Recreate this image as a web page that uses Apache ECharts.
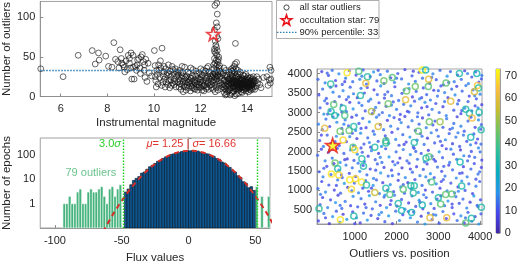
<!DOCTYPE html>
<html>
<head>
<meta charset="utf-8">
<script src="https://cdn.jsdelivr.net/npm/echarts@6/dist/echarts.min.js"></script>
<style>
html, body { margin: 0; padding: 0; background: #fff; }
#main { width: 520px; height: 265px; }
</style>
</head>
<body>
<div id="main"></div>
<script>
// top-left: outliers per star vs instrumental magnitude
var magOutliers = [
  [5.14,35],[6.1,25],[6.75,52],[7.35,58],[7.48,41],[7.62,55],[7.65,46],[7.93,51],[8.05,38],[8.2,37],[8.28,68],[8.35,47],[8.45,44],[8.55,59],[8.6,48],[8.62,42],[8.68,40],[8.72,37],[8.75,31],[8.8,45],[8.9,52],[8.95,48],[9.02,55],[9.05,22],[9.1,52],[9.15,22],[9.2,38],[9.25,33],[9.3,46],[9.35,48],[9.4,36],[9.42,29],[9.5,53],[9.55,44],[9.6,40],[9.62,24],[9.7,19],[9.75,42],[8.85,34],[9.0,36],[9.45,50],[8.5,36],[9.12,37],[9.58,33],[9.8,30],[9.9,26],[9.65,47],[8.95,42],[9.28,40],
  [10.02,58],[10.05,39],[10.1,12],[10.12,33],[10.15,28],[10.2,40],[10.25,24],[10.3,36],[10.35,61],[10.38,18],[10.42,31],[10.45,22],[10.5,35],[10.55,27],[10.6,15],[10.62,40],[10.65,20],[10.7,32],[10.72,25],[10.78,38],[10.8,17],[10.85,29],[10.88,22],[10.92,35],[10.95,12],[10.98,26],[10.08,20],[10.18,16],[10.28,45],[10.48,12],[10.58,30],[10.68,11],[10.75,14],[10.82,34],[10.9,19],[10.4,26],[10.22,33],[10.52,18],[10.33,14],[10.66,28],[10.96,31],[10.06,25],[10.87,15],[10.44,38],[10.73,21],
  [11.02,18],[11.05,27],[11.08,12],[11.1,33],[11.13,20],[11.16,9],[11.18,24],[11.2,15],[11.23,30],[11.25,19],[11.28,13],[11.3,22],[11.32,37],[11.35,17],[11.38,8],[11.4,26],[11.42,14],[11.45,21],[11.48,11],[11.5,18],[11.52,29],[11.55,16],[11.57,7],[11.6,23],[11.62,13],[11.65,19],[11.68,34],[11.7,15],[11.72,10],[11.75,21],[11.78,17],[11.8,26],[11.82,12],[11.85,19],[11.88,8],[11.9,23],[11.92,15],[11.95,30],[11.98,18],[12.0,11],[12.02,21],[12.05,16],[12.08,27],[12.1,13],[12.12,19],[12.15,7],[12.18,24],[12.2,15],[12.22,32],[12.25,20],[12.28,12],[12.3,26],[12.32,17],[12.35,9],[12.38,22],[12.4,14],[12.42,29],[12.45,19],[12.48,11],[12.5,24],
  [11.06,22],[11.15,30],[11.26,6],[11.36,24],[11.46,31],[11.56,20],[11.66,26],[11.76,9],[11.86,28],[11.96,22],[12.06,8],[12.16,29],[12.26,23],[12.36,31],[12.46,15],[11.12,16],[11.22,26],[11.34,12],[11.44,18],[11.54,24],[11.64,11],[11.74,18],[11.84,15],[11.94,12],[12.04,25],[12.14,14],[12.24,10],[12.34,18],[12.44,26],[11.03,30],[11.58,36],[12.01,35],[12.33,38],[12.12,33],[11.21,38],[11.81,32],[12.27,36],
  [12.62,115],[12.7,118],[12.72,104],[12.68,93],[12.72,88],[12.6,84],[12.7,76],[12.63,70],[12.66,65],[12.75,73],[12.6,60],[12.72,58],[12.65,55],[12.7,52],[12.78,50],[12.6,48],[12.68,46],[12.75,44],[12.62,42],[12.72,40],[12.66,38],[12.8,36],[12.58,35],[12.7,33],[12.76,31],[12.64,29],[12.74,27],[12.55,26],[12.82,39],[12.77,47],[12.69,62],[12.6,57],[12.57,40],[12.85,32],[12.6,30],[12.66,24],
  [12.52,18],[12.55,9],[12.58,21],[12.6,14],[12.63,6],[12.65,19],[12.68,11],[12.7,22],[12.72,16],[12.75,8],[12.78,20],[12.8,13],[12.82,25],[12.85,17],[12.88,10],[12.9,23],[12.92,15],[12.95,28],[12.53,28],[12.62,25],[12.73,26],[12.87,29],
  [12.97,12],[13.0,20],[13.02,5],[13.04,26],[13.06,14],[13.08,9],[13.1,18],[13.12,3],[13.14,24],[13.16,11],[13.18,16],[13.2,7],[12.98,30],[13.01,15],[13.05,21],[13.09,33],[13.13,27],[13.17,19],[13.03,10],[13.07,2],[13.11,13],[13.15,6],[13.19,22],[13.0,36],
  [13.22,14],[13.24,22],[13.26,8],[13.28,17],[13.3,27],[13.32,11],[13.34,4],[13.36,19],[13.38,13],[13.4,24],[13.42,7],[13.44,16],[13.46,30],[13.48,10],[13.5,20],[13.52,14],[13.54,3],[13.56,25],[13.58,12],[13.6,18],[13.62,8],[13.64,22],[13.66,15],[13.68,28],[13.7,11],[13.72,19],[13.74,6],[13.76,23],[13.78,14],[13.8,17],[13.82,9],[13.84,21],[13.86,13],[13.88,26],[13.9,16],[13.92,10],[13.94,19],[13.96,7],[13.98,23],[14.0,14],[14.02,18],[14.04,11],[14.06,21],[14.08,15],[14.1,9],[14.12,19],[14.14,13],[14.16,24],[14.18,16],[14.2,11],[14.22,19],[14.24,14],[14.26,22],[14.28,17],[14.3,12],
  [13.23,31],[13.27,2],[13.31,20],[13.35,29],[13.39,6],[13.43,21],[13.47,1],[13.51,26],[13.55,9],[13.59,29],[13.63,4],[13.67,20],[13.71,31],[13.75,16],[13.79,5],[13.83,27],[13.87,8],[13.91,22],[13.95,28],[13.99,10],[14.03,25],[14.07,6],[14.11,23],[14.15,8],[14.19,21],[14.23,9],[14.27,25],
  [13.21,19],[13.25,10],[13.29,23],[13.33,15],[13.37,25],[13.41,12],[13.45,18],[13.49,23],[13.53,17],[13.57,20],[13.61,13],[13.65,10],[13.69,17],[13.73,13],[13.77,20],[13.81,12],[13.85,17],[13.89,19],[13.93,14],[13.97,17],[14.01,20],[14.05,16],[14.09,12],[14.13,17],[14.17,19],[14.21,15],[14.25,17],[14.29,20],
  [13.35,16],[13.45,13],[13.55,18],[13.65,16],[13.75,21],[13.85,15],[13.95,18],[14.05,13],[14.15,15],[13.4,18],[13.5,11],[13.6,24],[13.7,14],[13.8,22],[13.9,12],[14.0,16],[14.1,17],[14.2,14],[13.62,16],[13.72,15],[13.82,18],[13.92,16],[14.02,13],[13.52,15],[13.42,20],[13.32,17],[13.78,11],[13.88,14],[13.68,12],[13.58,14],
  [13.5,67],[13.55,43],[13.45,38],[13.38,36],[13.3,34],[13.6,33],[13.42,33],[13.52,35],[13.35,32],[13.48,41],
  [14.35,20],[14.4,13],[14.45,17],[14.5,22],[14.55,15],[14.6,11],[14.7,24],[14.85,25],[14.95,21],[15.0,17],[15.02,22],[14.9,14],[14.98,37],[15.03,33],[14.42,25],[14.33,9]
];
var occultStar = [[12.55, 79]];
var percentile90 = 33;

// bottom-left: flux histogram (bin centre, count), bin width 2
var outlierBins = [
  [-93,1],[-91,1],[-89,2],[-87,1],[-85,1],[-83,3],[-81,4],[-79,1],[-77,1],[-75,3],[-73,4],
  [-71,3],[-69,3],[-67,4],[-65,5],[-63,2],[-61,1],[-59,4],[-57,5],[-55,2],[-53,4],[-51,6],
  [51,5],[55,2],[60,2]
];
var fluxBins = [
  [-47,3],[-45,4],[-43,6],[-41,9],[-39,11],[-37,13],[-35,18],[-33,20],[-31,26],[-29,33],
  [-27,38],[-25,45],[-23,55],[-21,60],[-19,73],[-17,84],[-15,90],[-13,106],[-11,112],[-9,125],
  [-7,129],[-5,140],[-3,142],[-1,150],[1,148],[3,153],[5,143],[7,145],[9,132],[11,128],
  [13,114],[15,110],[17,92],[19,88],[21,72],[23,66],[25,52],[27,47],[29,36],[31,31],
  [33,23],[35,20],[37,14],[39,12],[41,8],[43,7],[45,4.5],[47,5],[49,3.5]
];
var gaussFit = [
  [-64,0.07],[-60,0.174],[-56,0.41],[-52,0.91],[-48,1.9],[-44,3.75],[-40,7.0],[-36,12.3],
  [-32,20.5],[-28,32.1],[-24,47.6],[-20,66.5],[-16,87.8],[-12,109.3],[-8,128.6],[-4,142.7],
  [0,149.6],[4,148],[8,138.2],[12,121.8],[16,101.4],[20,79.6],[24,59.2],[28,41.4],
  [32,27.3],[36,17.0],[40,10.0],[44,5.6],[48,2.9],[52,1.45],[56,0.68],[60,0.30],[64,0.125]
];
var sigmaCut = [-48.73, 51.23];

// right: outliers vs position (x, y, outliers)
var posDots = [
  [130,220,9],[260,410,14],[390,150,6],[470,330,18],[560,470,11],[640,180,15],[720,390,7],[810,260,20],[880,120,12],[950,450,9],[1040,300,16],[1130,170,8],[1210,420,13],[1300,240,19],[1390,360,10],[1460,130,14],[1550,280,7],[1640,440,17],[1720,200,11],[1810,350,21],[1900,150,8],[1980,470,13],[2070,230,16],[2150,380,9],[2240,120,12],[2330,300,18],[2410,450,10],[2500,190,15],[2590,340,7],[2680,140,20],[2760,420,12],[2850,250,9],[2940,370,16],[3020,160,11],[3110,460,14],[3190,280,8],[3280,130,19],[3370,400,10],[3450,230,13],[3540,350,17],[3620,170,9],[3710,440,12],[3800,210,15],[3880,330,8],[3970,140,18],[4020,400,11],
  [170,640,12],[230,820,8],[350,560,16],[420,760,10],[540,690,19],[600,880,7],[690,540,13],[770,720,15],[900,610,9],[960,850,17],[1070,580,11],[1150,790,14],[1240,650,8],[1350,870,20],[1420,530,12],[1500,710,16],[1610,620,9],[1700,830,13],[1760,560,18],[1870,740,10],[1950,880,15],[2010,600,7],[2120,770,12],[2200,520,17],[2290,680,9],[2370,860,14],[2460,590,11],[2540,750,19],[2630,530,8],[2710,820,13],[2820,660,16],[2900,540,10],[2970,780,12],[3060,860,7],[3150,610,15],[3230,730,18],[3330,560,9],[3420,840,14],[3500,670,11],[3590,780,13],[3680,550,16],[3760,700,8],[3850,860,20],[3930,620,12],[4010,760,10],
  [120,1050,14],[210,1230,9],[300,960,17],[380,1140,11],[510,1010,8],[590,1270,15],[660,930,12],[750,1180,19],[830,1080,7],[990,1190,13],[1090,940,16],[1190,1060,10],[1260,1250,14],[1330,980,9],[1440,1130,18],[1520,1270,12],[1590,920,15],[1670,1200,8],[1780,1010,13],[1850,1150,17],[1930,970,11],[2040,1260,9],[2100,1090,16],[2190,930,12],[2270,1200,7],[2350,1040,14],[2440,1280,10],[2520,950,19],[2610,1130,13],[2690,1010,8],[2770,1250,15],[2860,960,11],[2950,1170,17],[3040,1060,9],[3120,1280,12],[3210,990,16],[3300,1190,10],[3390,940,14],[3470,1090,8],[3560,1240,18],[3640,1000,11],[3730,1170,13],[3820,920,9],[3900,1110,15],[3990,1230,12],
  [150,1480,11],[240,1350,16],[330,1620,9],[430,1410,13],[500,1690,7],[620,1520,18],[700,1330,12],[790,1650,15],[870,1440,10],[940,1580,14],[1020,1360,8],[1120,1490,17],[1200,1640,11],[1290,1400,13],[1370,1550,9],[1450,1310,16],[1540,1680,12],[1620,1450,19],[1700,1590,8],[1800,1370,14],[1880,1520,10],[1960,1660,15],[2050,1420,12],[2130,1580,7],[2210,1330,17],[2300,1700,11],[2380,1470,13],[2480,1610,9],[2560,1380,16],[2640,1540,12],[2730,1680,8],[2810,1430,18],[2900,1330,11],[2980,1600,14],[3080,1490,10],[3160,1370,15],[3250,1650,9],[3340,1530,13],[3430,1320,17],[3510,1440,11],[3600,1610,8],[3690,1350,16],[3780,1550,12],[3860,1690,10],[3950,1420,14],[4030,1590,9],
  [110,1900,13],[200,2060,8],[290,1760,16],[370,1980,11],[460,1830,14],[580,2080,9],[650,1720,18],[740,1950,12],[820,1810,7],[900,2040,15],[980,1770,11],[1060,1930,17],[1150,2090,10],[1230,1740,13],[1320,1880,9],[1400,2020,16],[1490,1790,12],[1570,1950,8],[1650,1720,14],[1740,2070,11],[1820,1860,19],[1910,1740,10],[1990,1990,13],[2080,1830,7],[2160,2050,15],[2250,1760,12],[2330,1920,17],[2420,2080,9],[2500,1800,14],[2590,1950,11],[2670,1730,16],[2760,2030,8],[2850,1880,13],[2930,1750,10],[3020,1990,18],[3100,1840,12],[3190,2070,9],[3270,1720,15],[3360,1930,11],[3440,1800,14],[3530,2040,7],[3610,1890,16],[3700,1760,12],[3790,2000,10],[3870,1850,13],[3960,2090,17],[4040,1780,9],
  [160,2280,10],[250,2130,15],[340,2420,12],[420,2200,8],[560,2390,17],[630,2150,11],[710,2460,14],[800,2250,9],[880,2380,16],[970,2140,12],[1050,2330,7],[1140,2470,18],[1220,2190,11],[1310,2350,13],[1380,2110,9],[1470,2440,15],[1560,2260,12],[1640,2130,17],[1730,2400,10],[1810,2210,14],[1890,2490,8],[1980,2310,16],[2060,2160,11],[2150,2430,13],[2230,2240,9],[2320,2370,18],[2400,2120,12],[2490,2290,15],[2570,2460,10],[2660,2180,14],[2740,2340,7],[2830,2480,16],[2910,2220,11],[3000,2390,13],[3090,2150,9],[3170,2300,17],[3260,2460,12],[3340,2200,8],[3420,2370,15],[3510,2130,11],[3600,2420,14],[3680,2260,10],[3770,2170,16],[3850,2450,12],[3940,2320,9],[4020,2190,13],
  [130,2700,16],[220,2560,11],[310,2830,14],[400,2640,9],[480,2890,13],[570,2750,17],[690,2590,10],[770,2810,15],[850,2660,12],[930,2880,8],[1020,2540,16],[1100,2720,11],[1190,2850,13],[1270,2610,9],[1350,2760,18],[1440,2520,12],[1520,2880,15],[1610,2690,10],[1690,2560,14],[1780,2800,8],[1860,2650,16],[1940,2870,11],[2030,2580,13],[2110,2740,17],[2200,2900,9],[2280,2630,12],[2370,2790,15],[2450,2540,10],[2540,2700,14],[2620,2860,7],[2710,2610,16],[2870,2680,11],[2960,2550,13],[3110,2620,12],[3200,2840,15],[3280,2570,10],[3370,2720,14],[3450,2890,8],[3540,2650,16],[3620,2520,11],[3710,2780,13],[3880,2620,9],[3960,2810,17],[4030,2690,12],
  [170,3120,12],[260,2960,17],[340,3230,10],[410,3050,14],[520,3280,8],[600,2940,16],[680,3190,11],[800,3020,13],[880,3260,9],[960,3090,18],[1040,2930,12],[1170,3180,15],[1250,3040,10],[1330,3290,14],[1420,2970,8],[1500,3130,16],[1580,3250,11],[1660,3000,13],[1750,3160,9],[1830,2920,17],[1920,3270,12],[2000,3080,15],[2090,2950,10],[2170,3210,14],[2260,3030,8],[2340,3170,16],[2430,3290,11],[2510,2990,13],[2600,3120,9],[2680,3260,18],[2770,2940,12],[2850,3080,15],[2940,3230,10],[3020,3000,14],[3110,3150,8],[3190,2920,16],[3370,3060,11],[3460,3220,13],[3540,2970,9],[3630,3110,17],[3710,3280,12],[3800,3040,15],[3880,3170,10],[3970,2930,14],[4040,3200,8],
  [140,3450,9],[230,3600,14],[320,3360,11],[480,3520,16],[550,3680,8],[630,3410,13],[720,3560,17],[800,3330,10],[890,3650,12],[970,3480,15],[1060,3380,9],[1150,3620,14],[1230,3500,11],[1380,3340,16],[1460,3580,8],[1540,3460,13],[1620,3680,17],[1710,3370,10],[1790,3530,12],[1880,3430,15],[1960,3660,9],[2050,3310,14],[2130,3490,11],[2300,3610,16],[2380,3400,8],[2470,3540,13],[2550,3350,17],[2640,3630,10],[2720,3460,12],[2810,3320,15],[2890,3570,9],[2980,3420,14],[3060,3680,11],[3150,3510,16],[3230,3380,8],[3320,3600,13],[3400,3450,17],[3490,3310,10],[3570,3550,12],[3660,3690,15],[3740,3420,9],[3830,3580,14],[3910,3350,11],[4000,3470,16],
  [120,3850,13],[210,4050,8],[290,3760,16],[370,3950,11],[460,4080,14],[540,3820,9],[620,3990,17],[700,3720,12],[780,3880,15],[870,4070,10],[950,3790,14],[1030,3960,8],[1120,3850,16],[1200,4090,11],[1280,3730,13],[1370,3920,9],[1450,4040,18],[1530,3810,12],[1610,3970,15],[1700,3740,10],[1780,4060,14],[1860,3890,8],[1950,3770,16],[2030,4000,11],[2120,3860,13],[2200,4100,9],[2290,3730,17],[2370,3940,12],[2450,3800,15],[2540,4030,10],[2620,3880,14],[2790,3750,8],[2870,3990,16],[2950,3840,11],[3040,4080,13],[3120,3710,9],[3210,3930,18],[3290,4050,12],[3380,3790,15],[3460,3960,10],[3550,3850,14],[3630,4070,8],[3720,3740,16],[3800,3910,11],[3890,4040,13],[3970,3780,9],[4040,3950,15],
  [300,300,10],[650,620,14],[1000,150,9],[1270,560,12],[1580,380,16],[1850,640,8],[2280,460,13],[2560,700,11],[2880,380,15],[3330,650,9],[3650,300,14],[3950,580,12],
  [180,900,15],[560,1130,10],[930,990,13],[1400,1060,8],[1720,880,17],[2160,1150,11],[2650,890,14],[3070,1230,9],[3480,980,16],[3900,1290,10],
  [260,1570,12],[680,1400,9],[1080,1700,15],[1500,1520,11],[1900,1380,14],[2330,1550,8],[2700,1350,16],[3130,1620,12],[3570,1450,10],[3990,1480,13],
  [400,2030,14],[760,1790,8],[1180,1980,12],[1610,1850,16],[2030,1710,10],[2460,2000,13],[2890,1800,9],[3300,2060,15],[3740,1880,11],[4000,1990,14],
  [200,2420,9],[530,2250,13],[940,2470,10],[1350,2230,16],[1760,2330,12],[2180,2180,8],[2610,2390,14],[3050,2260,11],[3470,2480,15],[3900,2220,9],
  [350,2960,12],[740,2700,16],[1150,2590,10],[1580,2940,14],[2070,2820,9],[2500,2890,13],[2920,2780,11],[3340,2600,15],[3780,2880,10],[4010,2570,12],
  [280,3300,14],[690,3010,10],[1100,3250,13],[1460,3060,9],[1880,3190,15],[2300,3010,12],[2730,3150,8],[3150,3280,14],[3560,3050,11],[3950,3120,16],
  [420,3650,10],[850,3400,14],[1300,3640,9],[1720,3460,12],[2180,3580,16],[2600,3380,11],[3000,3560,13],[3440,3670,8],[3870,3430,15],
  [340,4010,12],[760,3790,9],[1170,3930,15],[1560,4080,11],[2000,3880,14],[2400,4060,8],[2840,3900,13],[3250,3770,10],[3700,4000,16],[4030,3860,11]
];
var posCircles = [
  [816,4016,70],[1096,4057,40],[424,3733,35],[1304,3919,33],[1264,3749,60],[1696,3814,45],[1896,3895,42],[2240,3554,45],[2448,3668,45],[2760,3668,42],[2768,3855,60],[2616,4090,72],[2696,4090,30],[3184,3757,43],[3504,4000,33],[3920,4000,30],[3936,3692,65],[3960,3627,33],[3864,3530,58],
  [1136,3433,33],[496,3206,43],[720,3108,35],[432,3027,33],[520,2922,33],[760,2922,40],[1400,3027,52],[1800,3222,45],[2216,3327,60],[3296,3287,60],[3656,3084,33],[3744,2979,33],[3976,3003,33],[3808,2857,63],[2784,2760,45],[3040,2760,50],[4024,2557,33],
  [280,2598,60],[648,2517,45],[864,2541,43],[976,2638,33],[1560,2638,58],[2520,2517,43],[720,2297,68],[960,2111,40],[1000,2046,68],[1480,2111,33],[1744,2273,40],[1744,2216,35],[2424,2232,33],[2776,1867,43],[2704,1827,33],[1168,1811,33],[528,1705,45],[592,1559,33],[1208,1624,33],[3520,1730,30],[3776,2362,30],
  [440,1422,70],[616,1397,68],[880,1276,70],[1016,1300,68],[1160,1219,70],[920,1033,68],[1280,1138,33],[1744,1057,33],[1840,895,40],[1480,951,55],[2160,1033,42],[2344,1122,33],[2424,1122,33],[2400,935,35],[2040,668,33],[2120,489,30],[2360,433,30],[2616,627,30],[2800,303,60],[3056,651,42],[3176,895,43],[3320,911,43],[3560,1114,33],[2840,1219,40],[3000,813,33],[3200,303,62],[3656,165,42],[3792,287,33],[4030,570,33],[144,530,35],[976,343,33],[656,246,70]
];
var posStar = [[470, 2160]];

var parula = ['#3e26a8', '#4747eb', '#2796eb', '#0aacbd', '#2ebf99', '#71c45f', '#c7bd2e', '#fbbb3e', '#f9fb0e'];
var colorMax = 73;

var starPath = 'path://M0,-10L2.35,-3.24L9.51,-3.09L3.8,1.24L5.88,8.09L0,4L-5.88,8.09L-3.8,1.24L-9.51,-3.09L-2.35,-3.24Z';
var ringPath = 'path://M0,-10A10,10 0 1,1 0,10A10,10 0 1,1 0,-10ZM0,-6A6,6 0 1,0 0,6A6,6 0 1,0 0,-6Z';
var legendStar = [[286.5,15],[287.79,18.72],[291.73,18.8],[288.59,21.18],[289.73,24.95],[286.5,22.7],[283.27,24.95],[284.41,21.18],[281.27,18.8],[285.21,18.72]];

var font = 'Liberation Sans, Arial, Helvetica, sans-serif';
var ink = '#262626';
var frame = '#8a8a8a';

function histBar(fill, stroke, lw) {
  return function (params, api) {
    var x = api.value(0), y = api.value(1);
    var p0 = api.coord([x - 1, y]);
    var p1 = api.coord([x + 1, 0.1]);
    return {
      type: 'rect',
      shape: { x: p0[0], y: p0[1], width: p1[0] - p0[0], height: p1[1] - p0[1] },
      style: { fill: fill, stroke: stroke, lineWidth: lw }
    };
  };
}

function plain(v) { return String(v); }

function valueAxis(grid, min, max, ticks, extra) {
  var ax = {
    gridIndex: grid, type: 'value', min: min, max: max,
    axisLine: { show: true, lineStyle: { color: frame, width: 0.8 } },
    axisTick: { show: true, inside: true, length: 3, customValues: ticks, lineStyle: { color: frame } },
    axisLabel: { customValues: ticks, formatter: plain, color: ink, fontSize: 11, fontFamily: font, margin: 5 },
    splitLine: { show: false },
    nameTextStyle: { color: ink, fontSize: 11.5, fontFamily: font },
    nameLocation: 'middle'
  };
  for (var k in extra) ax[k] = extra[k];
  return ax;
}

var chart = echarts.init(document.getElementById('main'), null, { renderer: 'canvas' });

var gradStops = parula.map(function (c, i) { return { offset: i / (parula.length - 1), color: c }; });
var xLabel = { formatter: plain, color: ink, fontSize: 11, fontFamily: font, margin: 7 };

var option = {
  animation: false,
  backgroundColor: '#fff',
  grid: [
    { left: 37, top: 1, width: 235, height: 95.5, show: true, borderColor: frame, borderWidth: 0.8 },
    { left: 37, top: 138, width: 233, height: 95, show: true, borderColor: frame, borderWidth: 0.8 },
    { left: 317, top: 69, width: 165, height: 164, show: true, borderColor: frame, borderWidth: 0.8 },
    { left: 496, top: 69, width: 10, height: 164, show: true, borderColor: frame, borderWidth: 0.8 }
  ],
  xAxis: [
    valueAxis(0, 5.12, 15.07, [6, 8, 10, 12, 14], { name: 'Instrumental magnitude', nameGap: 20,
      axisLabel: Object.assign({ customValues: [6, 8, 10, 12, 14] }, xLabel) }),
    valueAxis(1, -111, 61, [-100, -50, 0, 50], { name: 'Flux values', nameGap: 24,
      axisLabel: Object.assign({ customValues: [-100, -50, 0, 50] }, xLabel) }),
    valueAxis(2, 96, 4045, [1000, 2000, 3000, 4000], { name: 'Outliers vs. position', nameGap: 24,
      axisLabel: Object.assign({ customValues: [1000, 2000, 3000, 4000] }, xLabel) }),
    { gridIndex: 3, type: 'category', data: [''], show: false }
  ],
  yAxis: [
    valueAxis(0, 0, 120, [0, 50, 100], { name: 'Number of outliers', nameGap: 23 }),
    {
      gridIndex: 1, type: 'log', logBase: 10, min: 0.1, max: 500,
      axisLine: { show: true, lineStyle: { color: frame, width: 0.8 } },
      axisTick: { show: true, inside: true, length: 3, lineStyle: { color: frame } },
      axisLabel: {
        color: ink, fontSize: 11, fontFamily: font, margin: 5,
        formatter: function (v) {
          var e = Math.log(v) / Math.LN10;
          return (Math.abs(e - Math.round(e)) < 1e-6 && v >= 0.99 && v <= 101) ? String(Math.round(v)) : '';
        }
      },
      splitLine: { show: false },
      name: 'Number of epochs', nameLocation: 'middle', nameGap: 23,
      nameTextStyle: { color: ink, fontSize: 11.5, fontFamily: font }
    },
    valueAxis(2, 140, 4115, [500, 1000, 1500, 2000, 2500, 3000, 3500, 4000], {}),
    valueAxis(3, 0, colorMax, [0, 10, 20, 30, 40, 50, 60, 70], { position: 'right' })
  ],
  visualMap: {
    type: 'continuous', show: false, min: 0, max: colorMax, dimension: 2,
    seriesIndex: [6, 7], inRange: { color: parula }
  },
  series: [
    {
      type: 'scatter', xAxisIndex: 0, yAxisIndex: 0, data: magOutliers,
      symbol: 'circle', symbolSize: 5.8,
      itemStyle: { color: 'rgba(0,0,0,0)', borderColor: '#111', borderWidth: 0.8 },
      markLine: {
        silent: true, symbol: 'none', label: { show: false },
        lineStyle: { color: '#2f7fb5', type: [1.5, 1.5], width: 1.3 },
        data: [{ yAxis: percentile90 }]
      }
    },
    {
      type: 'scatter', xAxisIndex: 0, yAxisIndex: 0, data: occultStar,
      symbol: starPath, symbolSize: 13, z: 5,
      itemStyle: { color: '#fff', borderColor: '#e8141a', borderWidth: 1.6 }
    },
    {
      type: 'custom', xAxisIndex: 1, yAxisIndex: 1, data: outlierBins, clip: true,
      renderItem: histBar('#45b37c', '#fff', 0.6)
    },
    {
      type: 'custom', xAxisIndex: 1, yAxisIndex: 1, data: fluxBins, clip: true,
      renderItem: histBar('#0e5690', '#031626', 0.6)
    },
    {
      type: 'line', xAxisIndex: 1, yAxisIndex: 1, data: gaussFit, symbol: 'none', clip: true, z: 4,
      lineStyle: { color: '#d42f27', width: 2, type: [5, 4] }
    },
    {
      type: 'line', xAxisIndex: 1, yAxisIndex: 1, data: [], symbol: 'none',
      markLine: {
        silent: true, symbol: 'none', label: { show: false },
        lineStyle: { color: '#22d422', type: [1.5, 1.5], width: 1.4 },
        data: [{ xAxis: sigmaCut[0] }, { xAxis: sigmaCut[1] }]
      }
    },
    {
      type: 'scatter', xAxisIndex: 2, yAxisIndex: 2, data: posDots,
      symbol: 'circle', symbolSize: 3.2
    },
    {
      type: 'scatter', xAxisIndex: 2, yAxisIndex: 2, data: posCircles,
      symbol: ringPath, symbolSize: 7.5
    },
    {
      type: 'scatter', xAxisIndex: 2, yAxisIndex: 2, data: posStar,
      symbol: starPath, symbolSize: 14, z: 5,
      itemStyle: { color: parula[parula.length - 1], borderColor: '#e8141a', borderWidth: 1.6 }
    },
    {
      type: 'bar', xAxisIndex: 3, yAxisIndex: 3, data: [colorMax], barWidth: '100%', silent: true,
      itemStyle: { color: new echarts.graphic.LinearGradient(0, 1, 0, 0, gradStops) }
    }
  ],
  graphic: [
    { type: 'rect', shape: { x: 276.5, y: 0.5, width: 102.5, height: 38 }, style: { fill: '#fff', stroke: '#9a9a9a', lineWidth: 0.8 }, z: 10 },
    { type: 'circle', shape: { cx: 286.5, cy: 7.5, r: 2.6 }, style: { fill: 'none', stroke: '#1c1c1c', lineWidth: 0.8 }, z: 11 },
    { type: 'polygon', shape: { points: legendStar }, style: { fill: '#fff', stroke: '#e8141a', lineWidth: 1.6 }, z: 11 },
    { type: 'line', shape: { x1: 277, y1: 32.3, x2: 297.5, y2: 32.3 }, style: { stroke: '#2f7fb5', lineWidth: 1.3, lineDash: [1.5, 1.5] }, z: 11 },
    { type: 'text', x: 299.5, y: 7.5, style: { text: 'all star outliers', fill: ink, font: '9.5px ' + font, verticalAlign: 'middle' }, z: 11 },
    { type: 'text', x: 299.5, y: 20, style: { text: 'occultation star: 79', fill: ink, font: '9.5px ' + font, verticalAlign: 'middle' }, z: 11 },
    { type: 'text', x: 299.5, y: 32.3, style: { text: '90% percentile: 33', fill: ink, font: '9.5px ' + font, verticalAlign: 'middle' }, z: 11 },
    { type: 'text', x: 99, y: 144, style: { text: '3.0{i|σ}', fill: '#2ccc2c', font: '11px ' + font, verticalAlign: 'middle', rich: { i: { fontStyle: 'italic', fontSize: 11, fontFamily: font, fill: '#2ccc2c' } } }, z: 11 },
    { type: 'text', x: 146.5, y: 144, style: { text: '{i|μ}= 1.25 | {i|σ}= 16.66', fill: '#e0352d', font: '11px ' + font, verticalAlign: 'middle', rich: { i: { fontStyle: 'italic', fontSize: 11, fontFamily: font, fill: '#e0352d' } } }, z: 11 },
    { type: 'text', x: 65.5, y: 173, style: { text: '79 outliers', fill: '#6cc48e', font: '11px ' + font, verticalAlign: 'middle' }, z: 11 }
  ]
};

chart.setOption(option);
</script>
</body>
</html>
